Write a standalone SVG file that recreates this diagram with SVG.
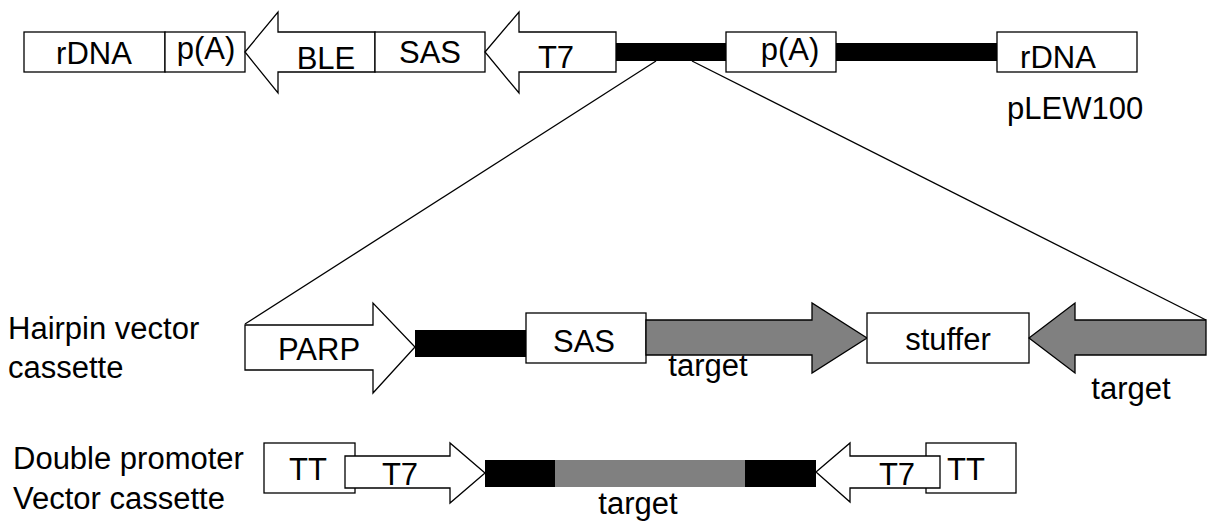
<svg xmlns="http://www.w3.org/2000/svg" width="1209" height="525" viewBox="0 0 1209 525">
<style>
.b{fill:#fff;stroke:#000;stroke-width:1.3}
.g{fill:#808080;stroke:#000;stroke-width:1.3}
.k{fill:#000}
.gr{fill:#808080}
.ln{stroke:#000;stroke-width:1.3;fill:none}
text{font-family:"Liberation Sans",Arial,sans-serif;font-size:31px;fill:#000}
.m{text-anchor:middle}
</style>
<rect width="1209" height="525" fill="#fff"/>
<g id="connectors">
<line class="ln" x1="656" y1="61" x2="245" y2="324"/>
<line class="ln" x1="692" y1="61" x2="1206" y2="320"/>
</g>
<g id="pLEW100">
<g id="top-rDNA-left"><rect class="b" x="24" y="32" width="141" height="40"/><text class="m" x="94" y="64">rDNA</text></g>
<g id="top-pA-left"><rect class="b" x="165" y="32" width="80" height="40"/><text class="m" x="206" y="59">p(A)</text></g>
<g id="top-BLE"><polygon class="b" points="245,52 278,12 278,32 375,32 375,72 278,72 278,93"/><text class="m" x="326" y="69">BLE</text></g>
<g id="top-SAS"><rect class="b" x="375" y="32" width="110" height="40"/><text class="m" x="430" y="63">SAS</text></g>
<g id="top-T7"><polygon class="b" points="485,52 519,12 519,32 616,32 616,72 519,72 519,93"/><text class="m" x="556" y="68">T7</text></g>
<rect class="k" x="616" y="43" width="110" height="18"/>
<g id="top-pA-mid"><rect class="b" x="726" y="32" width="110" height="40"/><text class="m" x="790" y="60">p(A)</text></g>
<rect class="k" x="836" y="43" width="161" height="18"/>
<g id="top-rDNA-right"><rect class="b" x="997" y="32" width="140" height="40"/><text class="m" x="1058" y="68">rDNA</text></g>
<text x="1007" y="119">pLEW100</text>
</g>
<g id="hairpin">
<text x="8" y="339">Hairpin vector</text>
<text x="8" y="378">cassette</text>
<g id="hp-PARP"><polygon class="b" points="245,325 373,325 373,303 415,347 373,393 373,370 245,370"/><text class="m" x="319" y="360">PARP</text></g>
<rect class="k" x="415" y="330" width="111" height="27"/>
<g id="hp-SAS"><rect class="b" x="526" y="313" width="120" height="50"/><text class="m" x="584" y="352">SAS</text></g>
<g id="hp-target1"><polygon class="g" points="646,320 812,320 812,303 867,338 812,373 812,355 646,355"/><text class="m" x="708" y="376">target</text></g>
<g id="hp-stuffer"><rect class="b" x="867" y="313" width="162" height="50"/><text class="m" x="948" y="350">stuffer</text></g>
<g id="hp-target2"><polygon class="g" points="1029,338 1075,303 1075,320 1206,320 1206,355 1075,355 1075,373"/><text class="m" x="1131" y="399">target</text></g>
</g>
<g id="double">
<text x="13" y="469">Double promoter</text>
<text x="13" y="509">Vector cassette</text>
<g id="dp-TT-left"><rect class="b" x="264" y="443" width="91" height="50"/><text class="m" x="308" y="480">TT</text></g>
<g id="dp-T7-left"><polygon class="b" points="345,456 450,456 450,443 485,473 450,503 450,488 345,488"/><text class="m" x="400" y="485">T7</text></g>
<rect class="k" x="485" y="460" width="70" height="27"/>
<rect class="gr" x="555" y="460" width="190" height="27"/>
<rect class="k" x="745" y="460" width="71" height="27"/>
<text class="m" x="638" y="514">target</text>
<g id="dp-TT-right"><rect class="b" x="926" y="443" width="90" height="50"/><text class="m" x="966" y="480">TT</text></g>
<g id="dp-T7-right"><polygon class="b" points="816,472 850,443 850,456 940,456 940,488 850,488 850,502"/><text class="m" x="897" y="485">T7</text></g>
</g>
</svg>
